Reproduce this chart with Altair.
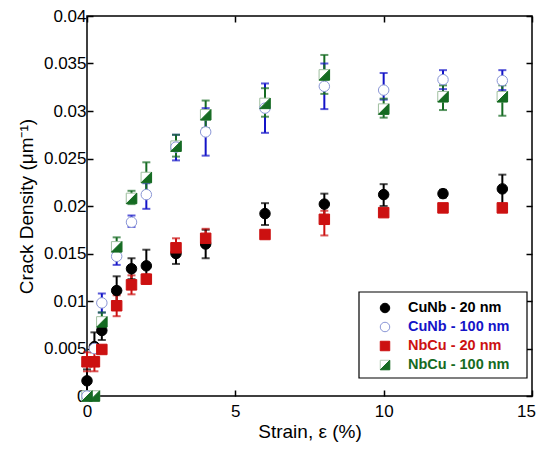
import altair as alt
import pandas as pd

strain = [0, 0.25, 0.5, 1, 1.5, 2, 3, 4, 6, 8, 10, 12, 14]

series_names = ["CuNb - 20 nm", "CuNb - 100 nm", "NbCu - 20 nm", "NbCu - 100 nm"]

cunb20 = [0.0016, 0.0052, 0.0069, 0.0111, 0.0134, 0.0137, 0.0150, 0.0160, 0.0192, 0.0202, 0.0212, 0.0213, 0.0218]
cunb20_lo = [0.0012, 0.0005, 0.0010, 0.0015, 0.0011, 0.0017, 0.0011, 0.0015, 0.0012, 0.0012, 0.0012, 0.0004, 0.0018]
cunb20_hi = [0.0012, 0.0015, 0.0010, 0.0015, 0.0011, 0.0017, 0.0010, 0.0015, 0.0011, 0.0011, 0.0011, 0.0004, 0.0015]

cunb100 = [0.0, 0.0050, 0.0098, 0.0147, 0.0183, 0.0212, 0.0262, 0.0278, 0.0303, 0.0326, 0.0322, 0.0333, 0.0332]
cunb100_lo = [0.0, 0.0, 0.0010, 0.0009, 0.0005, 0.0015, 0.0014, 0.0025, 0.0026, 0.0024, 0.0010, 0.0010, 0.0010]
cunb100_hi = [0.0, 0.0, 0.0010, 0.0008, 0.0007, 0.0012, 0.0013, 0.0025, 0.0026, 0.0024, 0.0018, 0.0010, 0.0011]

nbcu20 = [0.0036, 0.0036, 0.0049, 0.0095, 0.0117, 0.0123, 0.0156, 0.0166, 0.0170, 0.0186, 0.0193, 0.0198, 0.0198]
nbcu20_lo = [0.0010, 0.0010, 0.0004, 0.0011, 0.0010, 0.0005, 0.0009, 0.0009, 0.0004, 0.0017, 0.0003, 0.0003, 0.0003]
nbcu20_hi = [0.0010, 0.0010, 0.0004, 0.0011, 0.0010, 0.0005, 0.0010, 0.0010, 0.0004, 0.0009, 0.0003, 0.0003, 0.0003]

nbcu100 = [0.0, 0.0, 0.0078, 0.0157, 0.0208, 0.0230, 0.0263, 0.0296, 0.0308, 0.0338, 0.0302, 0.0315, 0.0315]
nbcu100_lo = [0.0, 0.0, 0.0010, 0.0009, 0.0006, 0.0015, 0.0011, 0.0014, 0.0014, 0.0020, 0.0009, 0.0014, 0.0020]
nbcu100_hi = [0.0, 0.0, 0.0010, 0.0010, 0.0008, 0.0016, 0.0012, 0.0015, 0.0016, 0.0021, 0.0011, 0.0012, 0.0012]

x_ticks = [0, 5, 10, 15]
y_ticks = [0, 0.005, 0.01, 0.015, 0.02, 0.025, 0.03, 0.035, 0.04]

bar_colors = ["#000000", "#1414c8", "#cc1111", "#156b22"]
fill_colors = ["#000000", "#ffffff", "#cc1111", "#156b22"]
stroke_colors = ["#000000", "#8a96d6", "#cc1111", "#156b22"]
tri = "M 1 -1 L 1 1 L -1 1 Z"
shapes = ["circle", "circle", "square", tri]

rows = []
for name, vals, lo, hi in [
    (series_names[0], cunb20, cunb20_lo, cunb20_hi),
    (series_names[1], cunb100, cunb100_lo, cunb100_hi),
    (series_names[2], nbcu20, nbcu20_lo, nbcu20_hi),
    (series_names[3], nbcu100, nbcu100_lo, nbcu100_hi),
]:
    for s, v, l, h in zip(strain, vals, lo, hi):
        rows.append({"series": name, "strain": s, "val": v, "lo": v - l, "hi": v + h})
df = pd.DataFrame(rows)
legend_df = pd.DataFrame({"series": series_names})

xs = alt.Scale(domain=[0, 15], nice=False, zero=False, padding=0)
ys = alt.Scale(domain=[0, 0.04], nice=False, zero=False, padding=0)
color_scale = alt.Scale(domain=series_names, range=bar_colors)
shape_scale = alt.Scale(domain=series_names, range=shapes)
fill_scale = alt.Scale(domain=series_names, range=fill_colors)
stroke_scale = alt.Scale(domain=series_names, range=stroke_colors)
inward = {"expr": "-6"}

base = alt.Chart(df)

x_main = alt.X("strain:Q", scale=xs, axis=alt.Axis(
    values=x_ticks, title="Strain, ε (%)", tickSize=inward,
    labelPadding=13, titlePadding=3, domain=False, grid=False, labelFlush=False,
    labelOffset={"condition": {"test": "datum.value == 15", "value": -6}, "value": 0}))
y_main = alt.Y("val:Q", scale=ys, axis=alt.Axis(values=y_ticks, format="~g", title="Crack Density (μm⁻¹)",
                                               tickSize=inward, labelPadding=7, titlePadding=7,
                                               domain=False, grid=False, labelFlush=False))
x_plain = alt.X("strain:Q", scale=xs, axis=None)

err = base.transform_filter("datum.hi > datum.lo")
rules = err.mark_rule(strokeWidth=2).encode(
    x=x_plain,
    y=alt.Y("lo:Q", scale=ys, axis=None),
    y2="hi:Q",
    color=alt.Color("series:N", scale=color_scale, legend=None),
)
caps_lo = err.mark_tick(orient="horizontal", size=8, thickness=2).encode(
    x=x_plain,
    y=alt.Y("lo:Q", scale=ys, axis=None),
    color=alt.Color("series:N", scale=color_scale, legend=None),
)
caps_hi = err.mark_tick(orient="horizontal", size=8, thickness=2).encode(
    x=x_plain,
    y=alt.Y("hi:Q", scale=ys, axis=None),
    color=alt.Color("series:N", scale=color_scale, legend=None),
)

green_sq = base.transform_filter(alt.datum.series == series_names[3]).mark_point(
    shape="square", filled=True, fill="white", stroke="#9fbf9f", strokeWidth=1, size=110, opacity=1
).encode(
    x=x_plain,
    y=alt.Y("val:Q", scale=ys, axis=None),
)

points = base.mark_point(filled=False, size=110, strokeWidth=1, opacity=1).encode(
    x=x_main,
    y=y_main,
    shape=alt.Shape("series:N", scale=shape_scale, legend=None),
    fill=alt.Fill("series:N", scale=fill_scale, legend=None),
    stroke=alt.Stroke("series:N", scale=stroke_scale, legend=None),
)

frame_axes = base.mark_point(opacity=0).encode(
    x=alt.X("strain:Q", scale=xs, axis=alt.Axis(orient="top", values=x_ticks, labels=False, title=None,
                                                tickSize=inward, domain=False, grid=False)),
    y=alt.Y("val:Q", scale=ys, axis=alt.Axis(orient="right", values=y_ticks, labels=False, title=None,
                                             tickSize=inward, domain=False, grid=False)),
)

# legend (drawn as marks inside the plot area)
leg_rows = alt.Y("series:N", scale=alt.Scale(type="point", domain=series_names, range=[292, 349], padding=0),
                 axis=None)
leg_base = alt.Chart(legend_df)
leg_box = alt.Chart(pd.DataFrame({"k": [0]})).mark_rect(fill="white", stroke="black", strokeWidth=1.2).encode(
    x=alt.value(272), x2=alt.value(440), y=alt.value(276), y2=alt.value(362)
)
leg_sq = leg_base.transform_filter(alt.datum.series == series_names[3]).mark_point(
    shape="square", filled=True, fill="white", stroke="#b5cdb5", strokeWidth=1, size=90, opacity=1
).encode(x=alt.value(298), y=leg_rows)
leg_pts = leg_base.mark_point(filled=False, size=90, strokeWidth=1, opacity=1).encode(
    x=alt.value(298),
    y=leg_rows,
    shape=alt.Shape("series:N", scale=shape_scale, legend=None),
    fill=alt.Fill("series:N", scale=fill_scale, legend=None),
    stroke=alt.Stroke("series:N", scale=stroke_scale, legend=None),
)
leg_txt = leg_base.mark_text(align="left", baseline="middle", fontWeight="bold", fontSize=14.5,
                             font="Liberation Sans").encode(
    x=alt.value(321),
    y=leg_rows,
    text="series:N",
    color=alt.Color("series:N", scale=color_scale, legend=None),
)

chart = alt.layer(
    rules, caps_lo, caps_hi, green_sq, points, frame_axes, leg_box, leg_sq, leg_pts, leg_txt
).resolve_axis(
    x="independent", y="independent"
).resolve_scale(
    y="independent"
).properties(
    width=445, height=380,
    autosize=alt.AutoSizeParams(type="none"),
    padding={"left": 79, "top": 8, "right": 4, "bottom": 46},
).configure_view(
    stroke="black", strokeWidth=1.5
).configure_axis(
    labelFont="Liberation Sans", titleFont="Liberation Sans", labelFontSize=17, titleFontSize=19,
    titleFontWeight="normal", labelColor="black", titleColor="black", tickColor="black", tickWidth=1.5
)

chart.save("out.html", embed_options={"renderer": "svg", "actions": False})
